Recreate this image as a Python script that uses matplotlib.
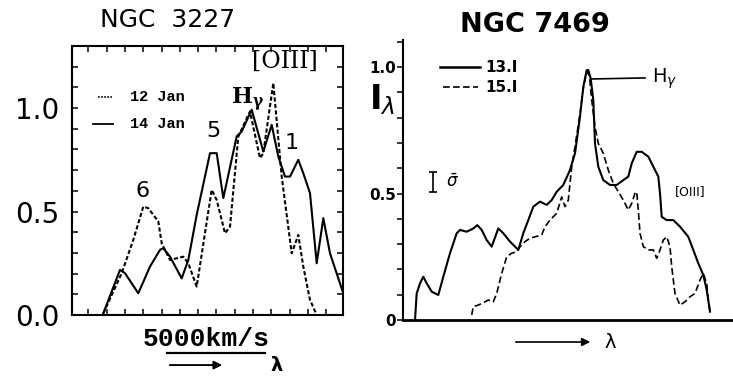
import numpy as np
import matplotlib
matplotlib.use("Agg")
import matplotlib.pyplot as plt
from matplotlib.ticker import MultipleLocator, FixedLocator

plt.rcParams["mathtext.fontset"] = "dejavuserif"

# ── NGC 3227 (left panel), x in arbitrary wavelength units ──────────────────
n3227_jan12_x = [31.3, 49.7, 61.3, 71.3, 76.3, 86.3, 89.7, 98.0, 111.3, 116.3,
                 124.7, 139.7, 144.7, 153.0, 158.0, 166.3, 178.0, 188.0, 191.3,
                 201.3, 209.7, 219.7, 226.3, 231.3, 238.0, 244.7]
n3227_jan12_y = [0.008, 0.202, 0.363, 0.524, 0.516, 0.452, 0.347, 0.266, 0.282,
                 0.250, 0.137, 0.605, 0.556, 0.395, 0.427, 0.863, 0.984, 0.758,
                 0.782, 1.121, 0.669, 0.298, 0.387, 0.234, 0.073, 0.0]

n3227_jan14_x = [31.3, 48.0, 53.0, 66.3, 78.0, 88.0, 91.3, 98.0, 109.7, 116.3,
                 124.7, 138.0, 144.7, 151.3, 164.7, 169.7, 179.7, 191.3, 199.7,
                 206.3, 213.0, 218.0, 226.3, 231.3, 238.0, 244.7, 251.3, 258.0,
                 271.3]
n3227_jan14_y = [0.008, 0.218, 0.202, 0.105, 0.234, 0.315, 0.323, 0.282, 0.177,
                 0.266, 0.484, 0.782, 0.782, 0.565, 0.863, 0.887, 0.992, 0.790,
                 0.919, 0.766, 0.669, 0.669, 0.750, 0.685, 0.589, 0.250, 0.468,
                 0.298, 0.105]

# ── NGC 7469 (right panel) ───────────────────────────────────────────────────
n7469_13_x = [12.0, 13.7, 17.0, 20.3, 23.7, 28.7, 35.3, 40.3, 47.0, 53.7, 57.0,
              63.7, 70.3, 74.3, 78.7, 83.7, 88.7, 95.3, 100.3, 107.0, 115.3,
              120.3, 125.3, 130.3, 137.0, 143.7, 148.7, 153.7, 160.3, 167.0,
              172.0, 177.0, 180.3, 183.7, 185.3, 187.7, 190.3, 192.0, 195.3,
              200.3, 207.0, 213.7, 220.3, 225.3, 228.7, 233.7, 238.7, 245.3,
              252.0, 255.3, 257.0, 258.7, 263.7, 270.3, 277.0, 285.3, 290.3,
              295.3, 300.3, 303.7, 307.0]
n7469_13_y = [0.0, 0.105, 0.145, 0.171, 0.145, 0.112, 0.099, 0.171, 0.264,
              0.343, 0.356, 0.349, 0.362, 0.375, 0.356, 0.316, 0.290, 0.362,
              0.343, 0.310, 0.277, 0.343, 0.395, 0.448, 0.468, 0.455, 0.474,
              0.507, 0.534, 0.593, 0.659, 0.804, 0.922, 0.988, 0.988, 0.955,
              0.870, 0.698, 0.606, 0.553, 0.534, 0.534, 0.553, 0.567, 0.619,
              0.665, 0.665, 0.646, 0.593, 0.567, 0.501, 0.408, 0.395, 0.395,
              0.369, 0.329, 0.277, 0.224, 0.178, 0.119, 0.033]

n7469_15_x = [68.7, 70.3, 75.3, 82.0, 85.3, 90.3, 93.7, 98.7, 103.7, 108.7,
              113.7, 117.0, 122.0, 127.0, 132.0, 138.7, 142.0, 147.0, 153.7,
              158.7, 162.0, 165.3, 168.7, 172.0, 177.0, 180.3, 183.7, 186.3,
              188.7, 192.0, 195.3, 200.3, 205.3, 210.3, 215.3, 220.3, 225.3,
              228.7, 232.0, 233.7, 235.3, 237.0, 240.3, 245.3, 250.3, 253.7,
              257.0, 260.3, 263.7, 267.0, 268.7, 272.0, 277.0, 282.0, 287.0,
              292.0, 297.0, 300.3, 303.7, 305.3, 307.0]
n7469_15_y = [0.020, 0.053, 0.059, 0.072, 0.079, 0.072, 0.105, 0.184, 0.250,
              0.264, 0.270, 0.290, 0.310, 0.323, 0.329, 0.336, 0.369, 0.395,
              0.422, 0.487, 0.448, 0.474, 0.606, 0.685, 0.817, 0.916, 0.982,
              0.968, 0.870, 0.764, 0.698, 0.659, 0.593, 0.540, 0.507, 0.474,
              0.435, 0.461, 0.501, 0.507, 0.435, 0.343, 0.290, 0.277, 0.277,
              0.244, 0.277, 0.316, 0.329, 0.290, 0.211, 0.105, 0.059, 0.072,
              0.092, 0.105, 0.158, 0.184, 0.145, 0.079, 0.033]

fig = plt.figure(figsize=(7.33, 3.76), dpi=100)

# ── left panel ───────────────────────────────────────────────────────────────
ax1 = fig.add_axes([72 / 733, 1 - 315 / 376, 271 / 733, 269 / 376])
ax1.plot(n3227_jan12_x, n3227_jan12_y, color="black", lw=1.5,
         linestyle=(0, (2.0, 1.1)))
ax1.plot(n3227_jan14_x, n3227_jan14_y, color="black", lw=1.5)
ax1.set_xlim(0, 271)
ax1.set_ylim(0, 1.30)
for s in ax1.spines.values():
    s.set_linewidth(1.5)
ax1.yaxis.set_major_locator(FixedLocator([0.0, 0.5, 1.0]))
ax1.set_yticklabels(["0.0", "0.5", "1.0"])
ax1.yaxis.set_minor_locator(MultipleLocator(0.1))
ax1.xaxis.set_major_locator(FixedLocator([]))
ax1.xaxis.set_minor_locator(FixedLocator(np.arange(16.3, 271, 18.3)))
ax1.tick_params(which="both", direction="in", left=True, right=True,
                top=True, bottom=True, length=4, width=1.1)
ax1.tick_params(axis="y", labelsize=20, pad=9)

ax1.text(71, 0.60, "6", fontsize=16, ha="center", va="center")
ax1.text(141, 0.89, "5", fontsize=16, ha="center", va="center")
ax1.text(220, 0.83, "1", fontsize=16, ha="center", va="center")
ax1.text(176, 1.04, r"$\mathbf{H_\gamma}$", fontsize=16, ha="center",
         va="center")
ax1.text(213, 1.225, "[OIII]", family="DejaVu Serif", fontsize=17,
         ha="center", va="center", clip_on=False)

ax1.plot([26, 41], [1.053, 1.053], color="black", lw=1.1,
         linestyle=(0, (1.2, 0.8)))
ax1.text(58, 1.053, "12 Jan", family="Liberation Mono", weight="bold",
         fontsize=11, va="center")
ax1.plot([21, 41], [0.923, 0.923], color="black", lw=1.3)
ax1.text(58, 0.923, "14 Jan", family="Liberation Mono", weight="bold",
         fontsize=11, va="center")

ax1.text(134, -0.115, "5000km/s", family="Liberation Mono", weight="bold",
         fontsize=19, ha="center", va="center", clip_on=False)
ax1.plot([95, 193], [-0.184, -0.184], color="black", lw=1.6, clip_on=False)
ax1.annotate("", xy=(153, -0.242), xytext=(95, -0.242),
             arrowprops=dict(arrowstyle="-|>", color="black", lw=1.4,
                             mutation_scale=12), annotation_clip=False)
ax1.text(205, -0.242, "λ", fontsize=14, fontweight="bold", ha="center",
         va="center", clip_on=False)

fig.text(168 / 733, 1 - 20 / 376, "NGC  3227", fontsize=18, ha="center",
         va="center")

# ── right panel ──────────────────────────────────────────────────────────────
ax2 = fig.add_axes([403 / 733, 1 - 320 / 376, 330 / 733, 280 / 376])
ax2.plot(n7469_13_x, n7469_13_y, color="black", lw=1.5)
ax2.plot(n7469_15_x, n7469_15_y, color="black", lw=1.2,
         linestyle=(0, (4, 2)))
ax2.set_xlim(0, 330)
ax2.set_ylim(0, 1.107)
ax2.spines["top"].set_visible(False)
ax2.spines["right"].set_visible(False)
ax2.spines["left"].set_linewidth(1.5)
ax2.spines["bottom"].set_linewidth(2.0)
ax2.set_xticks([])
ax2.yaxis.set_major_locator(FixedLocator([0.0, 0.5, 1.0]))
ax2.set_yticklabels(["0", "0.5", "1.0"], fontweight="bold")
ax2.yaxis.set_minor_locator(MultipleLocator(0.1))
ax2.tick_params(which="both", direction="out", length=4, width=1.1)
ax2.tick_params(axis="y", labelsize=11, pad=1)

ax2.plot([37, 77], [1.0, 1.0], color="black", lw=1.8)
ax2.text(82, 1.0, "13.I", fontweight="bold", fontsize=11, va="center")
ax2.plot([40, 75], [0.921, 0.921], color="black", lw=1.2,
         linestyle=(0, (4, 2)))
ax2.text(82, 0.921, "15.I", fontweight="bold", fontsize=11, va="center")

ax2.plot([189, 242], [0.953, 0.957], color="black", lw=1.2)
ax2.text(249, 0.955, r"H$_\gamma$", fontsize=14, va="center",
         math_fontfamily="dejavusans")
ax2.text(272, 0.506, "[OIII]", fontsize=9, va="center")

ax2.errorbar([30], [0.545], yerr=[0.039], color="black", lw=1.2, capsize=3,
             capthick=1.2)
ax2.text(43, 0.545, r"$\bar{\sigma}$", fontsize=12, va="center",
         math_fontfamily="dejavusans")
ax2.text(-21, 0.87, r"$\mathbf{I}_{\lambda}$", fontsize=24, ha="center",
         va="center", clip_on=False, math_fontfamily="dejavusans")

ax2.annotate("", xy=(190, -0.087), xytext=(110, -0.087),
             arrowprops=dict(arrowstyle="-|>", color="black", lw=1.2,
                             mutation_scale=12), annotation_clip=False)
ax2.text(207, -0.087, "λ", fontsize=14, ha="center", va="center",
         clip_on=False)

fig.text(535 / 733, 1 - 25 / 376, "NGC 7469", fontsize=19.5,
         fontweight="bold", ha="center", va="center")

fig.savefig("out.png", dpi=100)
